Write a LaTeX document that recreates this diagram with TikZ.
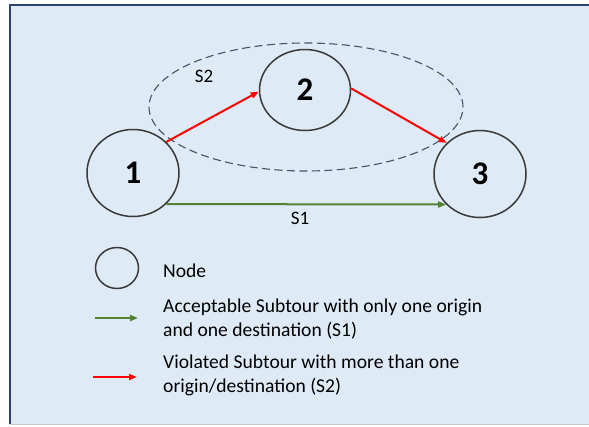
\documentclass[tikz,border=0pt]{standalone}
\usepackage{fontspec}
\setmainfont{Carlito}
\usepackage{tikz}
\usetikzlibrary{positioning,shapes.geometric,arrows.meta}

\definecolor{bgblue}{HTML}{DEEAF6}
\definecolor{frameblue}{HTML}{2F4370}
\definecolor{dashblue}{HTML}{44546A}
\definecolor{ringgray}{HTML}{3A3A3A}
\definecolor{okgreen}{HTML}{548235}
\definecolor{badred}{HTML}{FF0000}

\tikzset{
	city/.style={ellipse,draw=ringgray,line width=1.5pt,minimum width=92pt,minimum height=87pt,font=\fontsize{33}{40}\selectfont\bfseries},
	okarrow/.style={draw=okgreen,line width=2pt,-{Triangle[length=8pt,width=6pt]}},
	badarrow/.style={draw=badred,line width=2pt,-{Triangle[length=8pt,width=6pt]}},
	legtext/.style={anchor=west,align=left,inner sep=0pt,font=\fontsize{19.6}{24}\selectfont},
}

\begin{document}
\begin{tikzpicture}[x=1pt,y=-1pt]
		\useasboundingbox (0,0) rectangle (589,426);
		\fill[bgblue] (10,5) rectangle (589,424);
		\draw[frameblue,line width=1.5pt] (589,5)--(10,5)--(10,424);
		\draw[gray!45,line width=1pt] (10,424)--(589,424);
		
		\node[ellipse,draw=dashblue,dash pattern=on 8pt off 4.5pt,line width=1.1pt,minimum width=314pt,minimum height=128pt] (s2) at (306,107) {};
		\node[font=\fontsize{19}{23}\selectfont] (s2lab) at (204,76) {S2};
		
		\node[city] (n1) at (133,173) {1};
		\node[city,minimum width=91pt,minimum height=81pt] (n2) at (305,90) {2};
		\node[city] (n3) at (480,174) {3};
		
		\draw[badarrow] (n1.43)--(n2.182);
		\draw[badarrow] (n2.2)--(n3.137);
		\draw[okarrow] (n1.-43)--(n3.-138);
		
		\node[font=\fontsize{19}{23}\selectfont] (s1lab) at (300,218) {S1};
		
		% legend
		\node[ellipse,draw=ringgray,line width=1.5pt,minimum width=43pt,minimum height=41pt] (leg) at (117,268) {};
		\node[legtext] (legnode) at (163,271) {Node};
		
		\coordinate (ga) at (95,318);
		\coordinate (gb) at (138,318);
		\draw[okarrow] (ga)--(gb);
		\node[legtext] (legok) at (163,319) {Acceptable Subtour with only one origin\\and one destination (S1)};
		
		\coordinate (ra) at (93,377);
		\coordinate (rb) at (137,377);
		\draw[badarrow] (ra)--(rb);
		\node[legtext] (legbad) at (163,375) {Violated Subtour with more than one\\origin/destination (S2)};
	\end{tikzpicture}
\end{document}
